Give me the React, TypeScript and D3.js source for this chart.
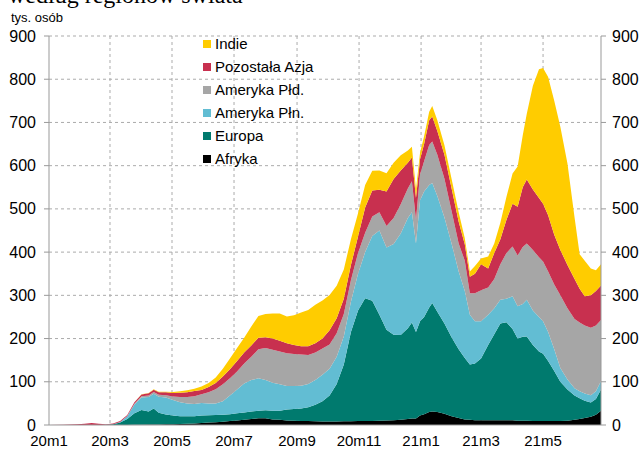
import React from "react";
import * as d3 from "d3";

// daty pomiarów (średnie dzienne, tys. osób)
const dates = [
  "2020-01-01", "2020-01-15", "2020-01-29", "2020-02-05", "2020-02-12", "2020-02-19", "2020-02-26",
  "2020-03-04", "2020-03-11", "2020-03-18", "2020-03-25", "2020-04-01", "2020-04-08", "2020-04-13",
  "2020-04-18", "2020-04-25", "2020-05-02", "2020-05-09", "2020-05-16", "2020-05-23", "2020-05-30",
  "2020-06-06", "2020-06-13", "2020-06-20", "2020-06-27", "2020-07-04", "2020-07-11", "2020-07-18",
  "2020-07-25", "2020-08-01", "2020-08-08", "2020-08-15", "2020-08-22", "2020-08-29", "2020-09-05",
  "2020-09-12", "2020-09-19", "2020-09-26", "2020-10-03", "2020-10-10", "2020-10-17", "2020-10-24",
  "2020-10-31", "2020-11-07", "2020-11-14", "2020-11-21", "2020-11-28", "2020-12-05", "2020-12-12",
  "2020-12-19", "2020-12-23", "2020-12-27", "2020-12-31", "2021-01-04", "2021-01-09", "2021-01-12",
  "2021-01-17", "2021-01-24", "2021-01-31", "2021-02-07", "2021-02-13", "2021-02-18", "2021-02-23",
  "2021-03-01", "2021-03-08", "2021-03-14", "2021-03-20", "2021-03-26", "2021-04-01", "2021-04-06",
  "2021-04-11", "2021-04-15", "2021-04-21", "2021-04-27", "2021-05-01", "2021-05-06", "2021-05-12",
  "2021-05-18", "2021-05-25", "2021-06-01", "2021-06-06", "2021-06-11", "2021-06-17", "2021-06-22",
  "2021-06-27",
];

const afryka = [
  0, 0, 0, 0, 0, 0, 0, 0, 0, 0.1, 0.4, 0.8, 1, 1.2, 1.3, 1.5, 2, 2.5, 3, 3.5, 4.5,
  5.5, 6.5, 7.5, 9, 10.5, 12, 14, 15.5, 15.5, 13, 12, 10.5, 10, 9.5, 9, 8.5, 8, 8, 8, 8.5, 8.5,
  9, 9, 9.5, 10, 10.5, 11, 12, 14, 15, 15, 22, 25, 30, 31, 30, 26, 20, 16, 13, 12, 11,
  11, 11, 11, 11, 11, 11, 10, 10, 10, 9, 9, 9, 9, 9, 9, 10, 12, 14, 16, 19, 24, 33,
];

const europa = [
  0, 0, 0, 0, 0, 0, 0.5, 1.5, 6, 14, 27, 34, 30, 37, 27, 23, 20, 18, 17, 17, 17.5,
  17, 16.5, 16.5, 16, 16.5, 17, 17, 17.5, 18.5, 20, 21, 25.5, 27, 28.5, 32, 38.5, 47, 60, 87, 131.5, 206.5,
  256, 284, 278, 245, 210, 198, 196, 210, 222, 200, 218, 225, 242, 251, 232, 209, 183, 159, 142, 128, 131,
  143, 174, 199, 224, 227, 211, 190, 194, 195, 176, 161, 156, 139, 116, 91, 72, 56, 48, 40, 33, 36, 49,
];

const amerykaPln = [
  0, 0, 0, 0, 0, 0, 0, 0.1, 1, 6, 20, 29, 34, 34, 37, 39, 36, 32, 30, 28, 29,
  27.5, 27, 31, 43, 55, 67, 73, 75, 70, 65, 61, 54, 53, 53, 54, 57, 61, 62, 63, 65, 70,
  85, 107, 150, 195, 190, 210, 235, 255, 255, 205, 280, 290, 283, 278, 268, 245, 217, 180, 155, 115, 98,
  86, 70, 60, 55, 54, 76, 75, 76, 85, 80, 80, 75, 67, 50, 32, 23, 17, 16, 17, 17, 18, 20,
];

const amerykaPld = [
  0, 0, 0, 0, 0, 0, 0, 0, 0, 0.5, 1.5, 2.5, 3.5, 4, 4.5, 5.5, 8, 12, 15, 18, 20,
  26, 33, 39, 40, 42, 46, 54, 67, 74, 76, 76, 76, 74, 72, 67, 64, 61, 56, 54, 52, 50,
  48, 45, 45, 42, 50, 60, 68, 68, 72, 55, 60, 70, 93, 96, 95, 90, 75, 65, 70, 50, 65,
  72, 63, 68, 82, 106, 115, 117, 132, 130, 140, 138, 138, 140, 150, 168, 165, 160, 159, 157, 156, 152, 141,
];

const pozostalaAzja = [
  0, 0.3, 2, 3, 4.5, 3, 1.2, 1.8, 2.2, 2.5, 3.5, 4.5, 5, 5.5, 6, 6.5, 8, 10, 11, 12, 10,
  12, 14, 18, 21, 24, 26, 26, 27, 25, 26, 25, 23, 21, 19, 20, 21, 23, 33, 35, 35, 35,
  38, 58, 60, 52, 80, 90, 78, 60, 55, 50, 35, 40, 57, 58, 55, 55, 53, 50, 38, 38, 45,
  60, 44, 60, 58, 77, 99, 113, 138, 148, 140, 137, 134, 130, 115, 105, 100, 93, 78, 68, 75, 80, 80,
];

const indie = [
  0, 0, 0, 0, 0, 0, 0, 0, 0, 0, 0.1, 0.4, 0.8, 1, 1.2, 1.6, 2.3, 3.3, 4.3, 5.5, 8,
  9, 13, 18, 25, 30, 34, 44, 50, 54, 58, 63, 62, 69, 78, 84, 89, 88, 82, 75, 68, 60,
  54, 52, 46, 45, 42, 38, 35, 28, 25, 20, 15, 18, 20, 24, 25, 22, 22, 22, 14, 12, 18,
  13, 28, 22, 38, 53, 70, 93, 120, 152, 240, 298, 314, 320, 310, 285, 235, 142, 80, 82, 62, 48, 49,
];

// kolejność stosu: od dołu do góry
const seriesNames = ["Afryka", "Europa", "Ameryka Płn.", "Ameryka Płd.", "Pozostała Azja", "Indie"];
const seriesValues = [afryka, europa, amerykaPln, amerykaPld, pozostalaAzja, indie];
const seriesColors = ["#000000", "#007A6E", "#62BDD3", "#A6A6A6", "#C8304F", "#FFCC00"];

const yTicks = [0, 100, 200, 300, 400, 500, 600, 700, 800, 900];
const xTickDates = [
  "2020-01-01", "2020-03-01", "2020-05-01", "2020-07-01", "2020-09-01",
  "2020-11-01", "2021-01-01", "2021-03-01", "2021-05-01",
];
const xTickLabels = ["20m1", "20m3", "20m5", "20m7", "20m9", "20m11", "21m1", "21m3", "21m5"];

const W = 641;
const H = 451;
const plot = { left: 49, right: 601, top: 36, bottom: 425 };
const sans = "Arial, 'Liberation Sans', sans-serif";

const parse = d3.timeParse("%Y-%m-%d");

export default function App() {
  const x = d3
    .scaleTime()
    .domain([parse("2020-01-01")!, parse("2021-06-27")!])
    .range([plot.left, plot.right]);
  const y = d3.scaleLinear().domain([0, 900]).range([plot.bottom, plot.top]);

  const rows = dates.map((d, i) => {
    const row: any = { date: parse(d) };
    seriesNames.forEach((name, k) => (row[name] = seriesValues[k][i]));
    return row;
  });

  const stacked = d3.stack().keys(seriesNames)(rows);
  const area = d3
    .area<any>()
    .x((d) => x(d.data.date))
    .y0((d) => y(d[0]))
    .y1((d) => y(d[1]))
    .curve(d3.curveLinear);

  const legend = seriesNames
    .map((name, i) => ({ name, color: seriesColors[i] }))
    .reverse();

  return (
    <svg
      width={W}
      height={H}
      style={{ position: "absolute", left: 0, top: 0, background: "#fff" }}
    >
      <text x={8} y={3} fontFamily="'Liberation Serif', 'Times New Roman', serif" fontSize={24} fill="#000">
        według regionów świata
      </text>
      <text x={11} y={22} fontFamily={sans} fontSize={13} fill="#000">
        tys. osób
      </text>

      {/* siatka */}
      {yTicks.slice(1).map((t) => (
        <line
          key={"gy" + t}
          x1={plot.left}
          x2={plot.right}
          y1={y(t)}
          y2={y(t)}
          stroke="#ABABAB"
          strokeWidth={1}
          strokeDasharray="3,3"
        />
      ))}
      {xTickDates.slice(1).map((d) => (
        <line
          key={"gx" + d}
          x1={x(parse(d)!)}
          x2={x(parse(d)!)}
          y1={plot.top}
          y2={plot.bottom}
          stroke="#ABABAB"
          strokeWidth={1}
          strokeDasharray="3,3"
        />
      ))}

      {/* warstwy */}
      {stacked.map((s, i) => (
        <path key={s.key} d={area(s as any) || ""} fill={seriesColors[i]} />
      ))}

      {/* osie */}
      <line x1={plot.left} x2={plot.left} y1={plot.top} y2={plot.bottom} stroke="#999" />
      <line x1={plot.right} x2={plot.right} y1={plot.top} y2={plot.bottom} stroke="#999" />
      <line x1={plot.left} x2={plot.right} y1={plot.bottom} y2={plot.bottom} stroke="#999" />
      {yTicks.map((t) => (
        <g key={"yt" + t}>
          <line x1={plot.left - 5} x2={plot.left} y1={y(t)} y2={y(t)} stroke="#999" />
          <line x1={plot.right} x2={plot.right + 5} y1={y(t)} y2={y(t)} stroke="#999" />
          <text
            x={36}
            y={y(t)}
            dy="0.35em"
            textAnchor="end"
            fontFamily={sans}
            fontSize={16}
            fill="#000"
          >
            {t}
          </text>
          <text x={612} y={y(t)} dy="0.35em" fontFamily={sans} fontSize={16} fill="#000">
            {t}
          </text>
        </g>
      ))}
      {xTickDates.map((d, i) => (
        <text
          key={"xt" + d}
          x={x(parse(d)!)}
          y={446}
          textAnchor="middle"
          fontFamily={sans}
          fontSize={15}
          fill="#000"
        >
          {xTickLabels[i]}
        </text>
      ))}

      {/* legenda */}
      {legend.map((l, i) => (
        <g key={l.name} transform={`translate(203,${44 + i * 23})`}>
          <rect x={0} y={-4} width={8} height={8} fill={l.color} />
          <text x={12} y={0} dy="0.35em" fontFamily={sans} fontSize={15} fill="#000">
            {l.name}
          </text>
        </g>
      ))}
    </svg>
  );
}
